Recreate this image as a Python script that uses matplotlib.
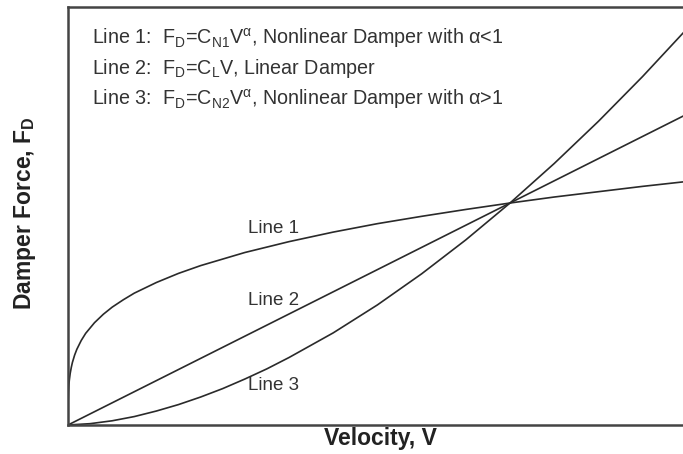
import matplotlib
matplotlib.use("Agg")
import matplotlib.pyplot as plt

plt.rcParams["font.family"] = ["Liberation Sans", "DejaVu Sans"]
plt.rcParams["mathtext.fontset"] = "custom"
plt.rcParams["mathtext.rm"] = "Liberation Sans"
plt.rcParams["mathtext.it"] = "Liberation Sans:italic"
plt.rcParams["mathtext.bf"] = "Liberation Sans:bold"

# points (velocity, force), intersection normalised to (1, 1)
line1_v = [0, 0.00001, 0.00005, 0.0001, 0.0003, 0.001, 0.002, 0.003, 0.005, 0.0075, 0.01,
           0.015, 0.02, 0.03, 0.04, 0.06, 0.08, 0.1, 0.125, 0.15, 0.2, 0.25, 0.3, 0.4, 0.5,
           0.6, 0.7, 0.8, 0.9, 1.0, 1.1, 1.2, 1.3, 1.4, 1.44]
line1_f = [0, 0.042, 0.066, 0.079, 0.107, 0.150, 0.181, 0.202, 0.233, 0.260, 0.282,
           0.315, 0.341, 0.381, 0.413, 0.461, 0.499, 0.531, 0.564, 0.594, 0.642, 0.683, 0.718,
           0.777, 0.826, 0.869, 0.907, 0.940, 0.971, 1.0, 1.027, 1.051, 1.075, 1.097, 1.106]
line2_v = [0, 1.44]
line2_f = [0, 1.44]
line3_v = [0, 0.05, 0.1, 0.15, 0.2, 0.25, 0.3, 0.35, 0.4, 0.45, 0.5, 0.6, 0.7, 0.8, 0.9,
           1.0, 1.1, 1.2, 1.3, 1.4, 1.44]
line3_f = [0, 0.006, 0.019, 0.038, 0.063, 0.092, 0.126, 0.164, 0.207, 0.253, 0.304, 0.415,
           0.541, 0.681, 0.834, 1.0, 1.178, 1.368, 1.570, 1.784, 1.874]

header = [
    r"Line 1:  F$_\mathregular{D}$=C$_\mathregular{N1}$V$^\mathregular{\alpha}$, Nonlinear Damper with α<1",
    r"Line 2:  F$_\mathregular{D}$=C$_\mathregular{L}$V, Linear Damper",
    r"Line 3:  F$_\mathregular{D}$=C$_\mathregular{N2}$V$^\mathregular{\alpha}$, Nonlinear Damper with α>1",
]
labels = ["Line 1", "Line 2", "Line 3"]
label_pos = [(0.407, 0.887), (0.407, 0.563), (0.407, 0.176)]

fig = plt.figure(figsize=(6.83, 4.54), dpi=100)
ax = fig.add_axes([68 / 683, 29 / 454, 0.93, 418 / 454])

lc = "#2a2a2a"
ax.plot(line1_v, line1_f, color=lc, lw=1.2)
ax.plot(line2_v, line2_f, color=lc, lw=1.2)
ax.plot(line3_v, line3_f, color=lc, lw=1.2)

for txt, (x, y) in zip(labels, label_pos):
    ax.text(x, y, txt, fontsize=13.5, color="#333333", va="center", ha="left")

for i, txt in enumerate(header):
    ax.text(24 / 635, 0.926 - i * 0.073, txt, transform=ax.transAxes, fontsize=14.2,
            color="#333333", va="center", ha="left")

ax.set_xlim(0, 1.437)
ax.set_ylim(0, 1.883)
ax.set_xticks([]); ax.set_yticks([])
for side in ("left", "bottom", "top"):
    ax.spines[side].set_linewidth(1.8)
    ax.spines[side].set_color("#444444")
ax.spines["right"].set_visible(False)

fig.text(380 / 683, 1 - 438 / 454, "Velocity, V", fontsize=16.5, fontweight="bold",
         ha="center", va="center", color="#222222")
fig.text(25 / 683, 1 - 213 / 454, r"Damper Force, F$_\mathbf{D}$", fontsize=16.5, fontweight="bold",
         ha="center", va="center", rotation=90, color="#222222")

fig.savefig("out.png", dpi=100)
